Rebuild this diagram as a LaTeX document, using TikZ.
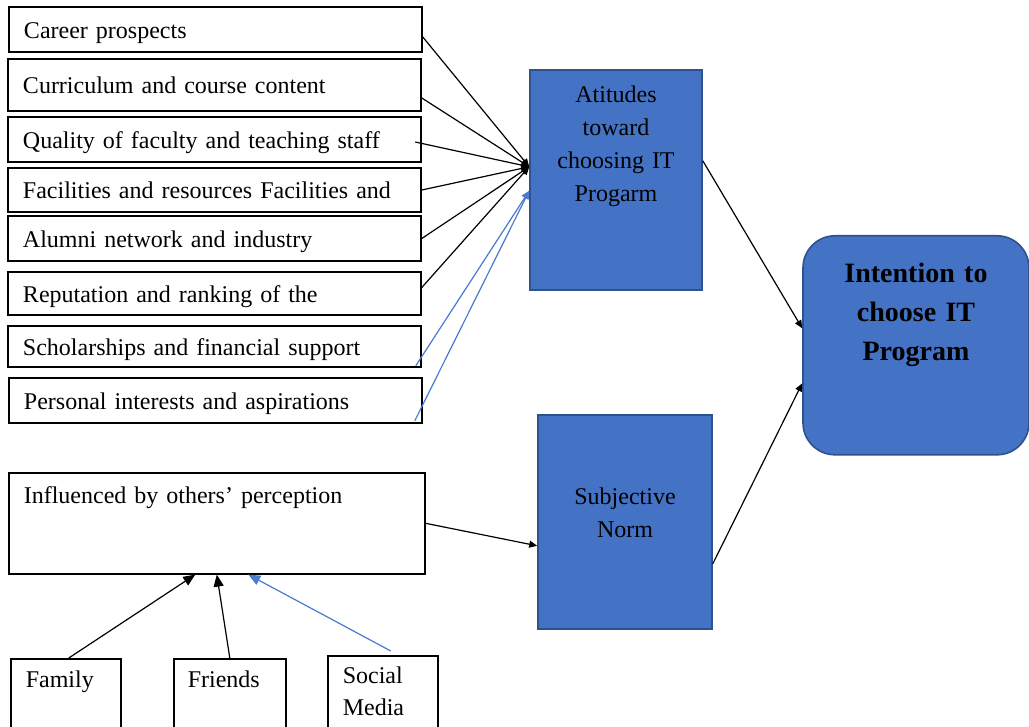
\documentclass[tikz,border=0pt]{standalone}
\usepackage{fontspec}
\setmainfont{Liberation Serif}
\usepackage{tikz}
\usetikzlibrary{arrows.meta}
\definecolor{fillblue}{HTML}{4472C4}
\definecolor{edgeblue}{HTML}{2F528F}
\definecolor{lineblue}{HTML}{4A7BD0}

\tikzset{
  factor/.style={draw,line width=0.8pt,minimum width=206.5pt,text width=191.5pt,
    align=left,inner xsep=7.5pt,inner ysep=0pt,text height=12pt,text depth=3pt,
    font=\fontsize{12}{14}\selectfont},
  source/.style={draw,line width=0.8pt,anchor=north west,inner xsep=7.5pt,inner ysep=0pt,
    align=left,text height=14.5pt,text depth=40pt,font=\fontsize{12}{16}\selectfont},
  construct/.style={draw=edgeblue,line width=0.8pt,fill=fillblue,anchor=north,
    align=center,inner xsep=2pt,inner ysep=0pt,font=\fontsize{12}{16.5}\selectfont},
  conn/.style={line width=0.6pt,-{Triangle[length=4pt,width=3.5pt]}},
  bconn/.style={conn,draw=lineblue,fill=lineblue},
  bighead/.style={-{Triangle[length=6pt,width=5pt]}},
}

\begin{document}
\begin{tikzpicture}[x=0.5pt,y=-0.5pt]
\clip (0,0) rectangle (1029,727);
% factors of attitude
\node[factor,minimum height=22.5pt] (f1) at (215.5,29.5) {Career prospects};
\node[factor,minimum height=26pt] (f2) at (214.5,85) {Curriculum and course content};
\node[factor,minimum height=22.5pt] (f3) at (214.5,139.5) {Quality of faculty and teaching staff};
\node[factor,minimum height=22pt] (f4) at (214.5,190) {Facilities and resources Facilities and};
\node[factor,minimum height=22.5pt] (f5) at (214.5,238.5) {Alumni network and industry};
\node[factor,minimum height=21.5pt] (f6) at (214.5,293.5) {Reputation and ranking of the};
\node[factor,minimum height=20.5pt] (f7) at (214.5,346.5) {Scholarships and financial support};
\node[factor,minimum height=22.5pt] (f8) at (215.5,400.5) {Personal interests and aspirations};

% social influence
\node[source,text width=193pt,text height=15.5pt,text depth=35pt] (inf) at (8,472) {Influenced by others’ perception};
\node[source,text width=40pt] (fam) at (10,658) {Family};
\node[source,text width=42pt,inner xsep=7pt] (fri) at (173,658) {Friends};
\node[source,text width=40pt,text height=14pt] (soc) at (327,655) {Social\\Media};

% constructs
\node[construct,text width=82pt,text height=16.5pt,text depth=93.5pt] (att) at (616,69) {Atitudes\\toward\\choosing IT\\Progarm};
\node[construct,text width=83pt,text height=45pt,text depth=62pt] (sn) at (625,414) {Subjective\\Norm};
\node[construct,rounded corners=16pt,text width=109pt,text height=23.5pt,text depth=86pt,
  font=\fontsize{14}{19.5}\selectfont\bfseries] (int) at (916,235) {Intention to\\choose IT\\Program};

% connectors
\draw[conn] ([yshift=-3.75pt]f1.east) -- ([yshift=6.5pt]att.west);
\draw[conn] ([yshift=-6.5pt]f2.east) -- ([yshift=6.5pt]att.west);
\draw[conn] ([xshift=-3.3pt,yshift=-1.25pt]f3.east) -- ([yshift=6.5pt]att.west);
\draw[conn] (f4.east) -- ([yshift=6.5pt]att.west);
\draw[conn] (f5.east) -- ([yshift=6.5pt]att.west);
\draw[conn] ([yshift=3pt]f6.east) -- ([yshift=6.5pt]att.west);
\draw[bconn] ([xshift=-3pt,yshift=1pt]f7.south east) -- ([yshift=-5.5pt]att.west);
\draw[bconn] ([xshift=-4pt,yshift=1.5pt]f8.south east) -- ([yshift=-5.5pt]att.west);
\draw[conn] ([yshift=9.5pt]att.east) -- ([yshift=8.5pt]int.west);
\draw[conn] ([yshift=-21pt]sn.east) -- ([yshift=-19pt]int.west);
\draw[conn] (inf.east) -- ([yshift=-12pt]sn.west);
\draw[conn,bighead] ([xshift=1.5pt]fam.north) -- ([xshift=-10.75pt]inf.south);
\draw[conn,bighead] (fri.north) -- (inf.south);
\draw[bconn,bighead] ([xshift=4pt,yshift=2pt]soc.north) -- ([xshift=15.75pt]inf.south);
\end{tikzpicture}
\end{document}
